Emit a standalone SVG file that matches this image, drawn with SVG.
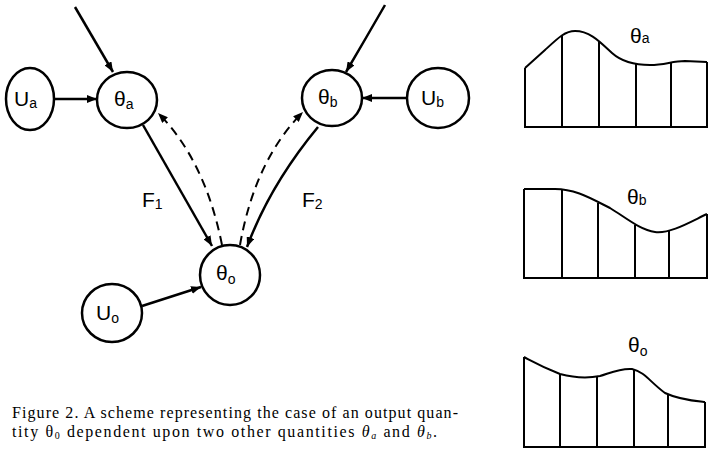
<svg xmlns="http://www.w3.org/2000/svg" width="708" height="449" viewBox="0 0 708 449">
<style>
.n{fill:#fff;stroke:#000;stroke-width:2.5}
.t{font-family:"Liberation Sans","DejaVu Sans",sans-serif;font-size:21px;fill:#000}
.s{font-size:14px}
.c{fill:none;stroke:#000;stroke-width:2.5}
.d{fill:none;stroke:#000;stroke-width:2;stroke-dasharray:9 6}
.g{fill:none;stroke:#000;stroke-width:2}
.cap{font-family:"Liberation Serif","DejaVu Serif",serif;font-size:16px;fill:#000}
</style>
<defs>
<marker id="ah" viewBox="0 0 10 8" refX="10" refY="4" markerWidth="10" markerHeight="8" markerUnits="userSpaceOnUse" orient="auto">
<path d="M0,0 L10,4 L0,8 Z" fill="#000"/>
</marker>
</defs>
<g id="connectors">
<path class="c" d="M75,7 L113,72" marker-end="url(#ah)"/>
<path class="c" d="M385,5 Q366,38 346,72" marker-end="url(#ah)"/>
<path class="c" d="M54,99 L97,99" marker-end="url(#ah)"/>
<path class="c" d="M407,98 L362,98" marker-end="url(#ah)"/>
<path class="c" d="M142,306 L201,287" marker-end="url(#ah)"/>
<path class="c" d="M143,125 L212,246" marker-end="url(#ah)"/>
<path class="c" d="M318,127 Q270,185 247,247" marker-end="url(#ah)"/>
<path class="d" d="M222,245 Q205,160 158,113" marker-end="url(#ah)"/>
<path class="d" d="M240,245 Q255,160 303,112" marker-end="url(#ah)"/>
<text class="t" x="142" y="207" font-size="19">F<tspan class="s" dy="2">1</tspan></text>
<text class="t" x="302" y="207" font-size="19">F<tspan class="s" dy="2">2</tspan></text>
</g>
<g id="Ua"><ellipse class="n" cx="30" cy="99" rx="24" ry="31"/><text class="t" x="14" y="106">U<tspan class="s" dy="2">a</tspan></text></g>
<g id="theta_a"><ellipse class="n" cx="127" cy="100" rx="30" ry="28"/><text class="t" x="114" y="106">θ<tspan class="s" dy="3">a</tspan></text></g>
<g id="theta_b"><ellipse class="n" cx="332" cy="98" rx="30" ry="28"/><text class="t" x="318" y="104">θ<tspan class="s" dy="3">b</tspan></text></g>
<g id="Ub"><ellipse class="n" cx="438" cy="98" rx="31" ry="30"/><text class="t" x="421" y="105">U<tspan class="s" dy="2">b</tspan></text></g>
<g id="theta_o"><ellipse class="n" cx="230" cy="275" rx="30" ry="30"/><text class="t" x="216" y="280">θ<tspan class="s" dy="4">o</tspan></text></g>
<g id="Uo"><ellipse class="n" cx="112" cy="313" rx="30" ry="29"/><text class="t" x="96" y="320">U<tspan class="s" dy="3">o</tspan></text></g>
<g id="chart_a">
<path class="g" d="M525,68 L525,127 L707,127 L707,62"/>
<path class="g" d="M525,68 L545,50 C558,38 565,31 575,31 C590,31 600,42 612,53 C622,62 635,65 650,65 C665,65 672,61 685,61 L707,62"/>
<path class="g" d="M562,35 V127 M599,42 V127 M636,64 V127 M671,62 V127"/>
<text class="t" x="630" y="43">θ<tspan class="s">a</tspan></text>
</g>
<g id="chart_b">
<path class="g" d="M524,189 L524,278 L707,278 L707,214"/>
<path class="g" d="M524,189 L555,189 C575,189 590,198 610,208 C625,217 640,230 655,232 C670,234 690,222 707,214"/>
<path class="g" d="M562,190 V278 M598,203 V278 M635,225 V278 M669,230 V278"/>
<text class="t" x="627" y="204">θ<tspan class="s" dy="1">b</tspan></text>
</g>
<g id="chart_o">
<path class="g" d="M524,357 L524,447 L705,447 L705,402"/>
<path class="g" d="M524,357 C530,360 540,366 560,374 C575,378 590,378 600,376 C610,373 620,368 632,369 C645,372 650,382 665,393 C680,400 695,401 705,402"/>
<path class="g" d="M560,374 V447 M597,377 V447 M634,370 V447 M668,395 V447"/>
<text class="t" x="628" y="352">θ<tspan class="s" dy="4">o</tspan></text>
</g>
<g id="caption">
<text class="cap" x="12" y="418" textLength="446" lengthAdjust="spacing">Figure 2. A scheme representing the case of an output quan-</text>
<text class="cap" x="12" y="437" textLength="425" lengthAdjust="spacing">tity θ<tspan font-size="10" dy="2">0</tspan><tspan dy="-2"> dependent upon two other quantities </tspan><tspan font-style="italic">θ</tspan><tspan font-size="10" font-style="italic" dy="2">a</tspan><tspan dy="-2"> and </tspan><tspan font-style="italic">θ</tspan><tspan font-size="10" font-style="italic" dy="2">b</tspan><tspan dy="-2">.</tspan></text>
</g>
</svg>
